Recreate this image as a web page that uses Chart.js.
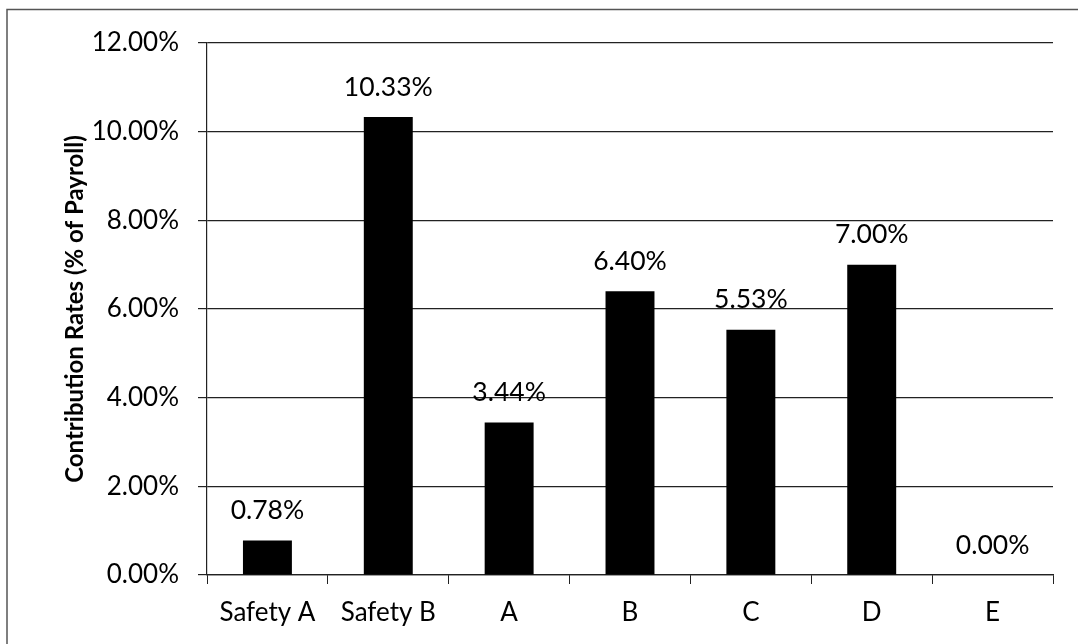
<!DOCTYPE html>
<html>
<head>
<meta charset="utf-8">
<script src="https://cdn.jsdelivr.net/npm/chart.js@4.4.1/dist/chart.umd.min.js"></script>
<style>
  html, body { margin: 0; padding: 0; background: #fff; }
  #wrap { position: relative; width: 1078px; height: 644px; }
</style>
</head>
<body>
<div id="wrap"><canvas id="chart" width="1078" height="644"></canvas></div>
<script>
// Contribution rates by plan, as a percent of payroll
const categories = ['Safety A', 'Safety B', 'A', 'B', 'C', 'D', 'E'];
const rates = [0.78, 10.33, 3.44, 6.40, 5.53, 7.00, 0.00];
const yTicks = [0, 2, 4, 6, 8, 10, 12];

const FONT = 'Lato, "Open Sans", "Noto Sans", sans-serif';
const pct = v => Number(v).toFixed(2) + '%';

// Value labels above each bar
const barValueLabels = {
  id: 'barValueLabels',
  afterDatasetsDraw(chart) {
    const { ctx } = chart;
    const meta = chart.getDatasetMeta(0);
    ctx.save();
    ctx.font = '26.5px ' + FONT;
    ctx.fillStyle = '#000';
    ctx.textAlign = 'center';
    ctx.textBaseline = 'middle';
    meta.data.forEach((bar, i) => {
      ctx.fillText(pct(rates[i]), bar.x, bar.y - 30);
    });
    ctx.restore();
  }
};

// Outer chart frame (left and top edges)
const frame = {
  id: 'frame',
  beforeDraw(chart) {
    const { ctx } = chart;
    ctx.save();
    ctx.strokeStyle = '#555';
    ctx.lineWidth = 1.5;
    ctx.beginPath();
    ctx.moveTo(7, 644);
    ctx.lineTo(7, 9.5);
    ctx.lineTo(1078, 9.5);
    ctx.stroke();
    ctx.restore();
  }
};

new Chart(document.getElementById('chart'), {
  type: 'bar',
  data: {
    labels: categories,
    datasets: [{
      data: rates,
      backgroundColor: '#000',
      borderWidth: 0,
      categoryPercentage: 1,
      barPercentage: 0.405
    }]
  },
  options: {
    responsive: false,
    animation: false,
    devicePixelRatio: 1,
    layout: { padding: { left: 0, top: 43, right: 25, bottom: 0 } },
    plugins: {
      legend: { display: false },
      tooltip: { enabled: false }
    },
    scales: {
      x: {
        offset: true,
        grid: {
          offset: true,
          drawOnChartArea: false,
          drawTicks: true,
          tickLength: 9,
          color: '#222',
          lineWidth: 1
        },
        border: { display: true, color: '#222', width: 1.2 },
        ticks: {
          color: '#000',
          font: { family: FONT, size: 26 },
          padding: 13
        },
        afterFit(scale) { scale.height = 69; }
      },
      y: {
        min: 0,
        max: 12,
        afterBuildTicks(scale) { scale.ticks = yTicks.map(v => ({ value: v })); },
        grid: {
          color: '#222',
          lineWidth: 1.2,
          drawTicks: true,
          tickLength: 9
        },
        border: { display: true, color: '#222', width: 1.2 },
        ticks: {
          color: '#000',
          font: { family: FONT, size: 26 },
          padding: 19,
          callback: v => pct(v)
        },
        title: {
          display: true,
          text: 'Contribution Rates (% of Payroll)',
          color: '#000',
          font: { family: FONT, size: 24, weight: 'bold' },
          padding: { top: 61, bottom: 0 }
        },
        afterFit(scale) { scale.width = 207; }
      }
    }
  },
  plugins: [frame, barValueLabels]
});
</script>
</body>
</html>
